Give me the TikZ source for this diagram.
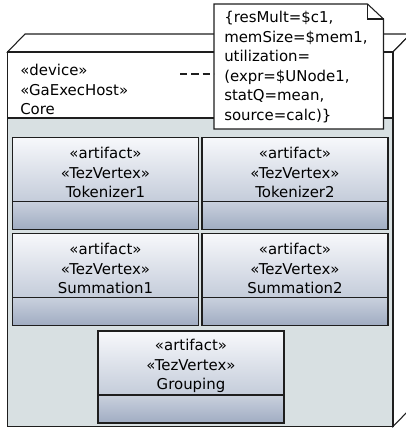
\documentclass[tikz,border=0pt]{standalone}
\usepackage{fontspec}
\setmainfont{DejaVu Sans}
\usetikzlibrary{positioning}

\definecolor{devbody}{RGB}{216,224,226}
\definecolor{arttop}{RGB}{247,248,251}
\definecolor{artmid}{RGB}{196,204,218}
\definecolor{artlow}{RGB}{160,172,194}
\definecolor{edge}{RGB}{30,30,30}

\newcommand\vertexname[1]{\rule{0pt}{13.4pt}«artifact»\\«TezVertex»\\#1}

\tikzset{
  outline/.style={draw=edge, line width=0.8pt},
  artifact/.style={outline, top color=arttop, bottom color=artmid,
    minimum width=139.5pt, minimum height=48pt, inner sep=0pt, outer sep=0pt,
    align=center},
  artfoot/.style={outline, top color=artmid!90!arttop, bottom color=artlow,
    minimum width=139.5pt, minimum height=21pt, inner sep=0pt, outer sep=0pt},
  label/.style={inner sep=0pt, align=left, anchor=west},
  notelink/.style={draw=edge, line width=0.8pt, dash pattern=on 5.5pt off 3pt}
}

\begin{document}
\begin{tikzpicture}[x=0.75pt, y=-0.75pt, font=\fontsize{11.2}{14.6}\selectfont]
\useasboundingbox (0,0) rectangle (406,429);
\clip (0,0) rectangle (406,429);

% device Core (3d box)
\draw[outline, fill=white] (7.5,52) -- (25,34) -- (410.5,34) -- (393,52) -- cycle;
\draw[outline, fill=white] (393,52) -- (410.5,34) -- (410.5,408.5) -- (393,426.5) -- cycle;
\draw[outline, fill=devbody] (7.5,118) rectangle (393,426.5);
\draw[outline, fill=white] (7.5,52) rectangle (393,118);
\node[label] (core) at (20,89.5) {«device»\\«GaExecHost»\\Core};

% artifacts
\node[artifact] (tok1) at (105.5,169.5) {\vertexname{Tokenizer1}};
\node[artfoot, below=0pt of tok1] (tok1f) {};
\node[artifact, right=2.6pt of tok1] (tok2) {\vertexname{Tokenizer2}};
\node[artfoot, below=0pt of tok2] (tok2f) {};
\node[artifact, below=3pt of tok1f] (sum1) {\vertexname{Summation1}};
\node[artfoot, below=0pt of sum1] (sum1f) {};
\node[artifact, below=3pt of tok2f] (sum2) {\vertexname{Summation2}};
\node[artfoot, below=0pt of sum2] (sum2f) {};
\node[artifact] (grp) at (191,363) {\vertexname{Grouping}};
\node[artfoot, below=0pt of grp] (grpf) {};

% note
\draw[outline, fill=white] (214,4) -- (367.5,4) -- (383.5,19) -- (383.5,129) -- (214,129) -- cycle;
\draw[outline] (367.5,4) -- (367.5,19) -- (383.5,19);
\node[label] (res) at (224,67) {\{resMult=\$c1,\\memSize=\$mem1,\\utilization=\\(expr=\$UNode1,\\statQ=mean,\\source=calc)\}};
\coordinate (corepin) at (180,74);
\coordinate (notepin) at (214,74);
\draw[notelink] (corepin) -- (notepin);
\end{tikzpicture}
\end{document}
